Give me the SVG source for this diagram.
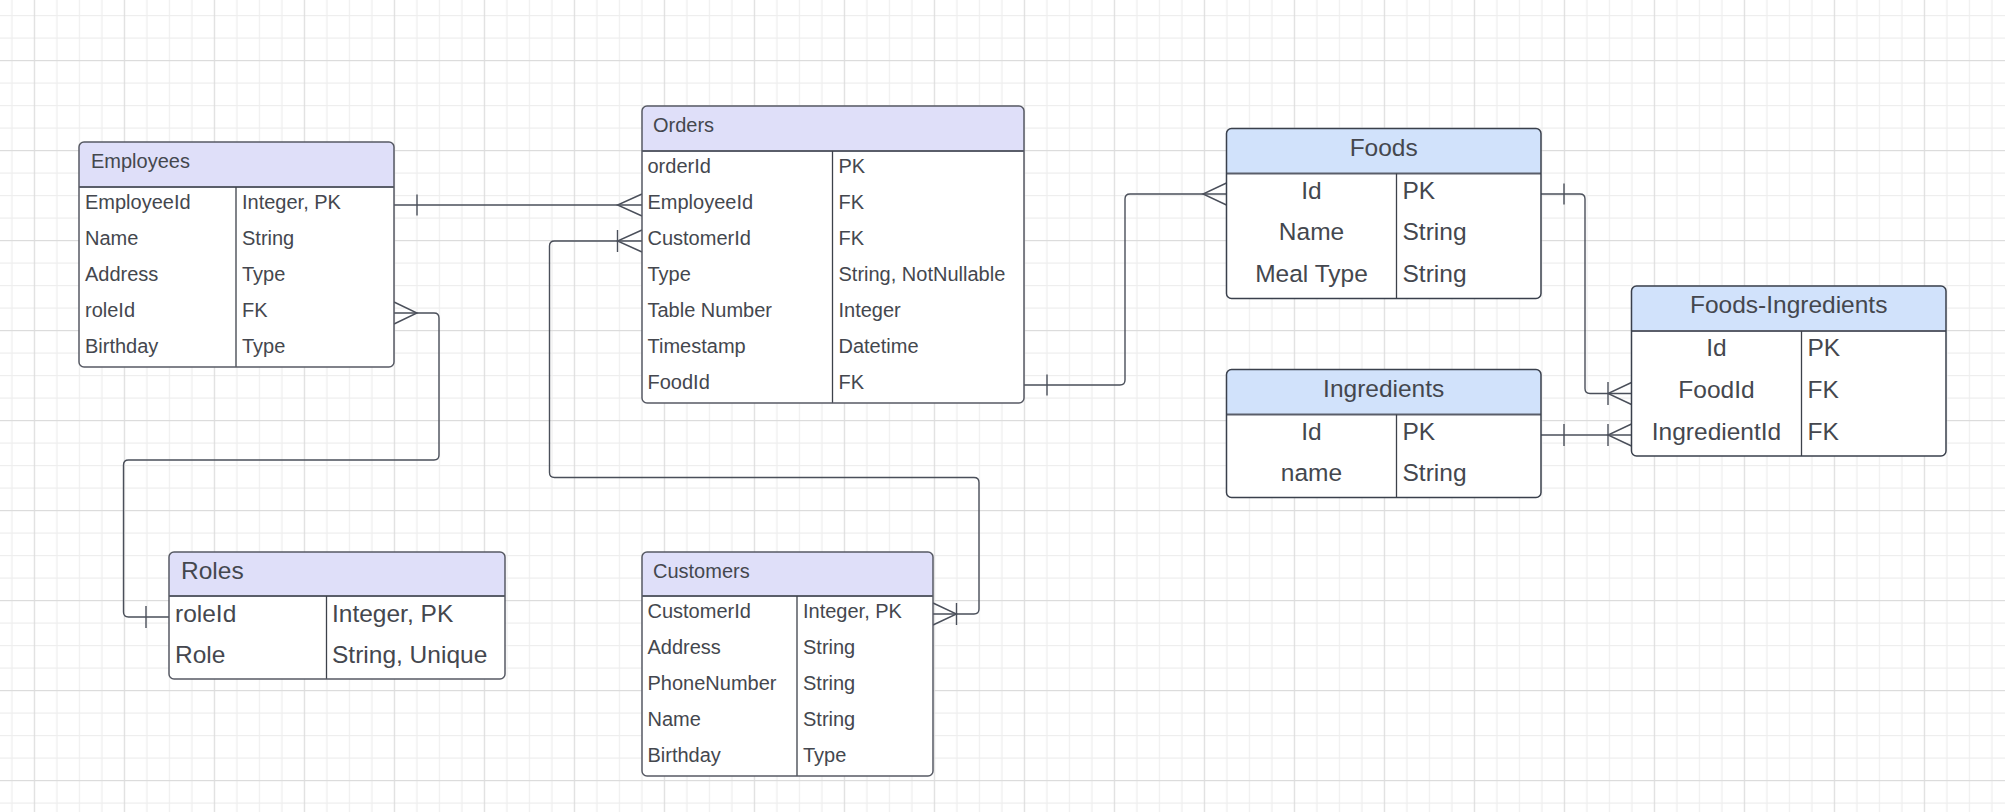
<svg xmlns="http://www.w3.org/2000/svg" width="2005" height="812" viewBox="0 0 2005 812">
<defs>
<pattern id="grid" x="33.8" y="60" width="90" height="90" patternUnits="userSpaceOnUse">
<rect x="22.5" y="0" width="1.2" height="90" fill="#eeeeee"/>
<rect x="45" y="0" width="1.2" height="90" fill="#eeeeee"/>
<rect x="67.5" y="0" width="1.2" height="90" fill="#eeeeee"/>
<rect x="0" y="22.5" width="90" height="1.2" fill="#eeeeee"/>
<rect x="0" y="45" width="90" height="1.2" fill="#eeeeee"/>
<rect x="0" y="67.5" width="90" height="1.2" fill="#eeeeee"/>
<rect x="0" y="0" width="1.2" height="90" fill="#dcdcdc"/>
<rect x="0" y="0" width="90" height="1.2" fill="#dcdcdc"/>
</pattern>
<style>
text{font-family:"Liberation Sans",Arial,sans-serif;fill:#44474e}
.s{font-size:20px}
.b{font-size:24.5px}
.c{text-anchor:middle}
.body{fill:#ffffff}
.hl{fill:#dfdff9}
.hb{fill:#d1e2fb}
.ol{fill:none;stroke:#575a64;stroke-width:1.5}
.olb{fill:none;stroke:#3a404c;stroke-width:1.5}
.sep{stroke:#5a5e6a;stroke-width:2;fill:none}
.div{stroke:#3d414a;stroke-width:1.3;fill:none}
.cn{fill:none;stroke:#4a4f5a;stroke-width:1.4}
</style>
</defs>
<rect width="2005" height="812" fill="#ffffff"/>
<rect width="2005" height="812" fill="url(#grid)"/>

<g id="connectors">
<path class="cn" d="M394,205 H642"/>
<path class="cn" d="M417,194.5 V215.5"/>
<path class="cn" d="M642,194 L617.5,205 L642,216"/>

<path class="cn" d="M642,241 H554.5 Q549.5,241 549.5,246 V472.5 Q549.5,477.5 554.5,477.5 H974 Q979,477.5 979,482.5 V609 Q979,614 974,614 H933"/>
<path class="cn" d="M617.5,230 V252"/>
<path class="cn" d="M642,230 L617.5,241 L642,252"/>
<path class="cn" d="M956.5,603 V625"/>
<path class="cn" d="M933,603 L956.5,614 L933,625"/>

<path class="cn" d="M394,313 H434 Q439,313 439,318 V455 Q439,460 434,460 H128.5 Q123.5,460 123.5,465 V612 Q123.5,617 128.5,617 H169"/>
<path class="cn" d="M394,302 L417,313 L394,324"/>
<path class="cn" d="M146,606 V628"/>

<path class="cn" d="M1024,385 H1120 Q1125,385 1125,380 V199 Q1125,194 1130,194 H1226.5"/>
<path class="cn" d="M1047,374.5 V395.5"/>
<path class="cn" d="M1226.5,183 L1203,194 L1226.5,205"/>

<path class="cn" d="M1540.5,194 H1580 Q1585,194 1585,199 V388.5 Q1585,393.5 1590,393.5 H1631.5"/>
<path class="cn" d="M1564,183.5 V204.5"/>
<path class="cn" d="M1608,382 V405"/>
<path class="cn" d="M1631.5,382.5 L1608,393.5 L1631.5,404.5"/>

<path class="cn" d="M1540.5,435 H1631.5"/>
<path class="cn" d="M1564,424 V446"/>
<path class="cn" d="M1608,424 V446"/>
<path class="cn" d="M1631.5,424 L1608,435 L1631.5,446"/>
</g>

<g id="employees">
<rect class="body" x="79" y="142" width="315" height="225" rx="5"/>
<path class="hl" d="M79,187 V147 Q79,142 84,142 H389 Q394,142 394,147 V187 Z"/>
<line class="sep" x1="79" y1="187" x2="394" y2="187"/>
<line class="div" x1="236" y1="187" x2="236" y2="367"/>
<rect class="ol" x="79" y="142" width="315" height="225" rx="5"/>
<text class="s" x="91" y="168">Employees</text>
<text class="s" x="85" y="208.5">EmployeeId</text><text class="s" x="242" y="208.5">Integer, PK</text>
<text class="s" x="85" y="244.5">Name</text><text class="s" x="242" y="244.5">String</text>
<text class="s" x="85" y="280.5">Address</text><text class="s" x="242" y="280.5">Type</text>
<text class="s" x="85" y="316.5">roleId</text><text class="s" x="242" y="316.5">FK</text>
<text class="s" x="85" y="352.5">Birthday</text><text class="s" x="242" y="352.5">Type</text>
</g>

<g id="orders">
<rect class="body" x="642" y="106" width="382" height="297" rx="5"/>
<path class="hl" d="M642,151 V111 Q642,106 647,106 H1019 Q1024,106 1024,111 V151 Z"/>
<line class="sep" x1="642" y1="151" x2="1024" y2="151"/>
<line class="div" x1="832.5" y1="151" x2="832.5" y2="403"/>
<rect class="ol" x="642" y="106" width="382" height="297" rx="5"/>
<text class="s" x="653" y="132">Orders</text>
<text class="s" x="647.5" y="172.5">orderId</text><text class="s" x="838.5" y="172.5">PK</text>
<text class="s" x="647.5" y="208.5">EmployeeId</text><text class="s" x="838.5" y="208.5">FK</text>
<text class="s" x="647.5" y="244.5">CustomerId</text><text class="s" x="838.5" y="244.5">FK</text>
<text class="s" x="647.5" y="280.5">Type</text><text class="s" x="838.5" y="280.5">String, NotNullable</text>
<text class="s" x="647.5" y="316.5">Table Number</text><text class="s" x="838.5" y="316.5">Integer</text>
<text class="s" x="647.5" y="352.5">Timestamp</text><text class="s" x="838.5" y="352.5">Datetime</text>
<text class="s" x="647.5" y="388.5">FoodId</text><text class="s" x="838.5" y="388.5">FK</text>
</g>

<g id="customers">
<rect class="body" x="642" y="552" width="291" height="224" rx="5"/>
<path class="hl" d="M642,596 V557 Q642,552 647,552 H928 Q933,552 933,557 V596 Z"/>
<line class="sep" x1="642" y1="596" x2="933" y2="596"/>
<line class="div" x1="797" y1="596" x2="797" y2="776"/>
<rect class="ol" x="642" y="552" width="291" height="224" rx="5"/>
<text class="s" x="653" y="577.5">Customers</text>
<text class="s" x="647.5" y="617.5">CustomerId</text><text class="s" x="803" y="617.5">Integer, PK</text>
<text class="s" x="647.5" y="653.5">Address</text><text class="s" x="803" y="653.5">String</text>
<text class="s" x="647.5" y="689.5">PhoneNumber</text><text class="s" x="803" y="689.5">String</text>
<text class="s" x="647.5" y="725.5">Name</text><text class="s" x="803" y="725.5">String</text>
<text class="s" x="647.5" y="761.5">Birthday</text><text class="s" x="803" y="761.5">Type</text>
</g>

<g id="roles">
<rect class="body" x="169" y="552" width="336" height="127" rx="5"/>
<path class="hl" d="M169,596 V557 Q169,552 174,552 H500 Q505,552 505,557 V596 Z"/>
<line class="sep" x1="169" y1="596" x2="505" y2="596"/>
<line class="div" x1="326.5" y1="596" x2="326.5" y2="679"/>
<rect class="ol" x="169" y="552" width="336" height="127" rx="5"/>
<text class="b" x="181" y="578.5">Roles</text>
<text class="b" x="175" y="621.5">roleId</text><text class="b" x="332" y="621.5">Integer, PK</text>
<text class="b" x="175" y="663">Role</text><text class="b" x="332" y="663">String, Unique</text>
</g>

<g id="foods">
<rect class="body" x="1226.5" y="128.5" width="314.5" height="170" rx="5"/>
<path class="hb" d="M1226.5,173.5 V133.5 Q1226.5,128.5 1231.5,128.5 H1536 Q1541,128.5 1541,133.5 V173.5 Z"/>
<line class="sep" x1="1226.5" y1="173.5" x2="1541" y2="173.5"/>
<line class="div" x1="1396.5" y1="173.5" x2="1396.5" y2="298.5"/>
<rect class="olb" x="1226.5" y="128.5" width="314.5" height="170" rx="5"/>
<text class="b c" x="1383.7" y="155.5">Foods</text>
<text class="b c" x="1311.5" y="198.5">Id</text><text class="b" x="1402.5" y="198.5">PK</text>
<text class="b c" x="1311.5" y="240.2">Name</text><text class="b" x="1402.5" y="240.2">String</text>
<text class="b c" x="1311.5" y="281.9">Meal Type</text><text class="b" x="1402.5" y="281.9">String</text>
</g>

<g id="ingredients">
<rect class="body" x="1226.5" y="369.5" width="314.5" height="128" rx="5"/>
<path class="hb" d="M1226.5,414.5 V374.5 Q1226.5,369.5 1231.5,369.5 H1536 Q1541,369.5 1541,374.5 V414.5 Z"/>
<line class="sep" x1="1226.5" y1="414.5" x2="1541" y2="414.5"/>
<line class="div" x1="1396.5" y1="414.5" x2="1396.5" y2="497.5"/>
<rect class="olb" x="1226.5" y="369.5" width="314.5" height="128" rx="5"/>
<text class="b c" x="1383.7" y="396.5">Ingredients</text>
<text class="b c" x="1311.5" y="439.7">Id</text><text class="b" x="1402.5" y="439.7">PK</text>
<text class="b c" x="1311.5" y="481.2">name</text><text class="b" x="1402.5" y="481.2">String</text>
</g>

<g id="foods-ingredients">
<rect class="body" x="1631.5" y="286" width="314.5" height="170" rx="5"/>
<path class="hb" d="M1631.5,331 V291 Q1631.5,286 1636.5,286 H1941 Q1946,286 1946,291 V331 Z"/>
<line class="sep" x1="1631.5" y1="331" x2="1946" y2="331"/>
<line class="div" x1="1801.5" y1="331" x2="1801.5" y2="456"/>
<rect class="olb" x="1631.5" y="286" width="314.5" height="170" rx="5"/>
<text class="b c" x="1788.7" y="313">Foods-Ingredients</text>
<text class="b c" x="1716.5" y="356.3">Id</text><text class="b" x="1807.5" y="356.3">PK</text>
<text class="b c" x="1716.5" y="397.9">FoodId</text><text class="b" x="1807.5" y="397.9">FK</text>
<text class="b c" x="1716.5" y="439.5">IngredientId</text><text class="b" x="1807.5" y="439.5">FK</text>
</g>
</svg>
